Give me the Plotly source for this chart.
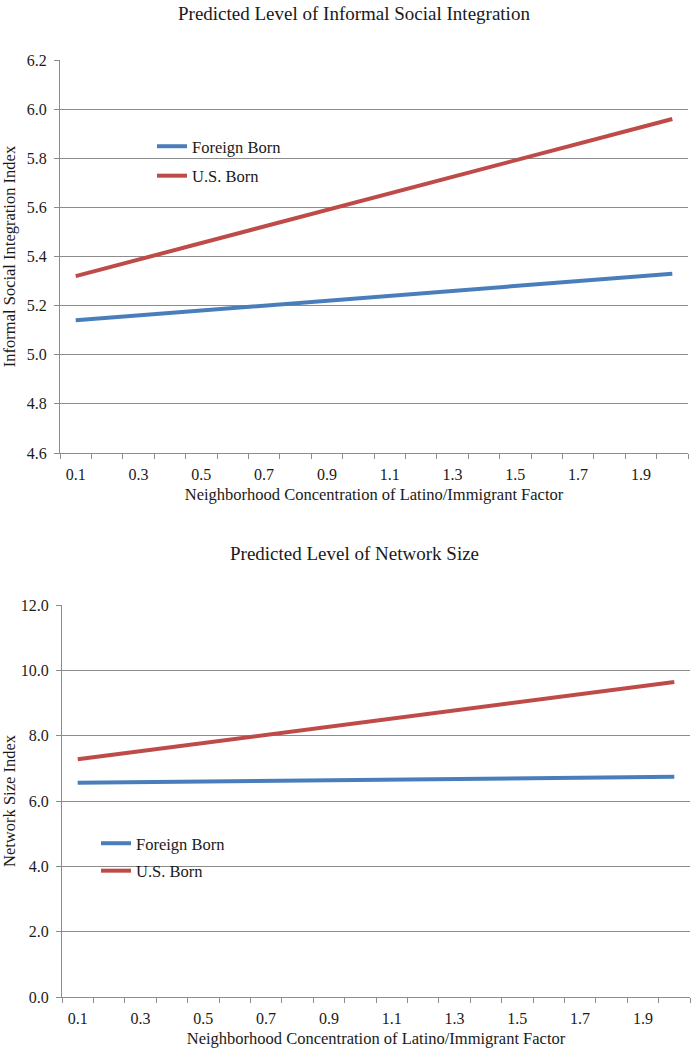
import plotly.graph_objects as go

# x categories run 0.1 .. 2.0, lines are straight so only the ends are kept
x_ends = [0.1, 2.0]
x_labels = [0.1, 0.3, 0.5, 0.7, 0.9, 1.1, 1.3, 1.5, 1.7, 1.9]

# top chart: informal social integration
integ_foreign = [5.14, 5.33]
integ_us = [5.32, 5.96]

# bottom chart: network size
net_foreign = [6.56, 6.74]
net_us = [7.28, 9.64]

BLUE = "#4A7EBB"
RED = "#BE4B48"
GRID = "#8C8C8C"
TXT = "#1a1a1a"
FONT = "Liberation Serif"
W, H = 692, 1050


# pixel positions (from the top-left of the page) -> paper coords
def px(x):
    return x / W


def py(y):
    return 1 - y / H


fig = go.Figure()

fig.add_trace(go.Scatter(x=x_ends, y=integ_foreign, mode="lines", name="Foreign Born",
                         line=dict(color=BLUE, width=4), xaxis="x", yaxis="y",
                         legend="legend", legendgroup="a"))
fig.add_trace(go.Scatter(x=x_ends, y=integ_us, mode="lines", name="U.S. Born",
                         line=dict(color=RED, width=4), xaxis="x", yaxis="y",
                         legend="legend", legendgroup="b"))
fig.add_trace(go.Scatter(x=x_ends, y=net_foreign, mode="lines", name="Foreign Born",
                         line=dict(color=BLUE, width=4), xaxis="x2", yaxis="y2",
                         legend="legend2", legendgroup="c"))
fig.add_trace(go.Scatter(x=x_ends, y=net_us, mode="lines", name="U.S. Born",
                         line=dict(color=RED, width=4), xaxis="x2", yaxis="y2",
                         legend="legend2", legendgroup="d"))


def xaxis_style(dom, anchor):
    return dict(
        domain=dom, anchor=anchor, range=[0.05, 2.05], automargin=False,
        tickvals=x_labels, ticktext=[f"{v:.1f}" for v in x_labels],
        ticks="", ticklabelstandoff=7, showgrid=False, zeroline=False,
        showline=True, linecolor=GRID, linewidth=1,
        tickfont=dict(family=FONT, size=16, color=TXT),
        minor=dict(tick0=0.05, dtick=0.1, ticks="outside", ticklen=5,
                   tickcolor=GRID, showgrid=False),
        title=dict(text="Neighborhood Concentration of Latino/Immigrant Factor",
                   font=dict(family=FONT, size=16.5, color=TXT), standoff=6),
    )


def yaxis_style(dom, anchor, rng, dt, title):
    return dict(
        domain=dom, anchor=anchor, range=rng, dtick=dt, tickformat=".1f", automargin=False,
        showgrid=True, gridcolor=GRID, gridwidth=1, zeroline=False,
        showline=True, linecolor=GRID, linewidth=1,
        ticks="outside", ticklen=5, tickcolor=GRID, ticklabelstandoff=4,
        tickfont=dict(family=FONT, size=16, color=TXT),
        title=dict(text=title, font=dict(family=FONT, size=16.5, color=TXT), standoff=9),
    )


legend_font = dict(family=FONT, size=16.5, color=TXT)

fig.update_layout(
    width=W, height=H,
    margin=dict(l=0, r=0, t=0, b=0),
    paper_bgcolor="white", plot_bgcolor="white",
    font=dict(family=FONT, size=16, color=TXT),
    xaxis=xaxis_style([px(60), px(688)], "y"),
    yaxis=yaxis_style([py(453), py(60)], "x", [4.6, 6.2], 0.2,
                      "Informal Social Integration Index"),
    xaxis2=xaxis_style([px(62), px(690)], "y2"),
    yaxis2=yaxis_style([py(997), py(605)], "x2", [0, 12], 2,
                       "Network Size Index"),
    legend=dict(x=px(152), y=py(129), xanchor="left", yanchor="top",
                bgcolor="rgba(0,0,0,0)", font=legend_font,
                traceorder="grouped", tracegroupgap=5, itemwidth=30),
    legend2=dict(x=px(96), y=py(826), xanchor="left", yanchor="top",
                 bgcolor="rgba(0,0,0,0)", font=legend_font,
                 traceorder="grouped", tracegroupgap=3, itemwidth=30),
    annotations=[
        dict(text="Predicted Level of Informal Social Integration", x=px(354), y=py(13),
             xref="paper", yref="paper", showarrow=False, yanchor="middle",
             font=dict(family=FONT, size=19, color=TXT)),
        dict(text="Predicted Level of Network Size", x=px(355), y=py(553),
             xref="paper", yref="paper", showarrow=False, yanchor="middle",
             font=dict(family=FONT, size=19, color=TXT)),
    ],
)

# drop the default 8px body margin so the figure fills the window exactly
fig.write_html("out.html", config={"displayModeBar": False},
               post_script="document.body.style.margin = '0';")
